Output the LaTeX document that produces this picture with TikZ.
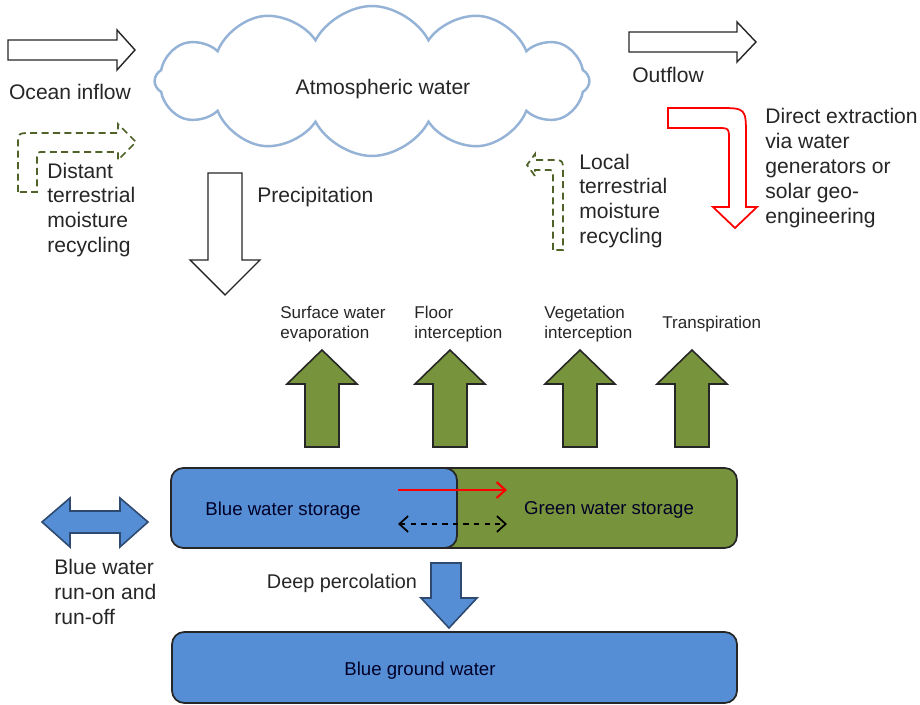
\documentclass[tikz,border=0pt]{standalone}
\usepackage{fontspec}
\setmainfont{Liberation Sans}
\usetikzlibrary{shapes.symbols,arrows.meta}
\definecolor{skyblue}{HTML}{95B3D7}
\definecolor{waterblue}{HTML}{558ED5}
\definecolor{blueline}{HTML}{2E4A70}
\definecolor{leafgreen}{HTML}{77933C}
\definecolor{darkolive}{HTML}{4F6228}
\tikzset{
  lbl/.style={font=\fontsize{12}{14.2}\selectfont, align=left, inner sep=0pt, text=black!85},
  slbl/.style={font=\fontsize{9.7}{11}\selectfont, align=left, inner sep=0pt, text=black!85},
  boxlbl/.style={font=\fontsize{10.6}{12}\selectfont, text=black!85!blue},
  outarrow/.style={draw=black!85, fill=white, line width=0.8pt, line join=miter},
  garrow/.style={draw=black!85, fill=leafgreen, line width=0.9pt},
  barrow/.style={draw=blueline, fill=waterblue, line width=0.9pt},
  recyc/.style={draw=darkolive, dashed, line width=1pt, dash pattern=on 4pt off 2.5pt},
  store/.style={draw=black!85, line width=1pt, rounded corners=7pt}
}
\begin{document}
\begin{tikzpicture}[x=0.02cm, y=-0.02cm]
  \useasboundingbox (0,0) rectangle (920,705);
  % atmosphere
  \node[cloud, draw=skyblue, fill=white, line width=1.4pt, cloud puffs=12, cloud puff arc=125,
    aspect=2.9, minimum width=8.7cm, minimum height=3cm, inner sep=0pt, shape border rotate=8] (atm) at (372,81) {};
  \node[lbl] (atmtxt) at (383,89) {Atmospheric water};
  \draw[outarrow](8,40)--(117,40)--(117,30)--(135,50)--(117,70)--(117,60)--(8,60)--cycle;
  \node[lbl] (ocean) at (70,92) {Ocean inflow};
  \draw[outarrow](629,32)--(737,32)--(737,22)--(756,42)--(737,62)--(737,52)--(629,52)--cycle;
  \node[lbl] (outflow) at (668,75) {Outflow};
  \draw[outarrow](208,173)--(242,173)--(242,260)--(260,260)--(225,295)--(190,260)--(208,260)--cycle;
  \node[lbl, anchor=west] (precip) at (257,197) {Precipitation};
  % recycling
  \draw[recyc](18,192)--(18,146) .. controls (18,133) .. (31,133)--(118,133)--(118,124)
  --(136,142)--(118,160)--(118,152)--(44,152) .. controls (37,152) .. (37,159)--(37,192)--cycle;
  \node[lbl, anchor=west] (distant) at (47,210) {Distant\\terrestrial\\moisture\\recycling};
  \draw[recyc](553,250)--(553,176) .. controls (553,170) .. (547,170)--(535,170)--(535,176)
  --(527,165)--(535,154)--(535,160)--(551,160) .. controls (563,160) .. (563,172)--(563,250)--cycle;
  \node[lbl, anchor=west] (local) at (579,201) {Local\\terrestrial\\moisture\\recycling};
  \draw[draw=red, fill=white, line width=1pt](668,108)--(718,108) .. controls (746,108) .. (746,136)
  --(746,207)--(757,207)--(735,228)--(713,207)--(729,207)--(729,140) .. controls (729,128) .. (717,128)
  --(668,128)--cycle;
  \node[lbl, anchor=west] (extract) at (765,168) {Direct extraction\\via water\\generators or\\solar geo-\\engineering};
  % vapour flows
  \foreach \x in {322,450,580,692}
    \draw[garrow](\x-17,447)--(\x-17,384)--(\x-35,384)--(\x,350)--(\x+35,384)--(\x+17,384)--(\x+17,447)--cycle;
  \node[slbl, anchor=west] (evap) at (280,324) {Surface water\\evaporation};
  \node[slbl, anchor=west] (floor) at (414,324) {Floor\\interception};
  \node[slbl, anchor=west] (veg) at (544,324) {Vegetation\\interception};
  \node[slbl, anchor=west] (transp) at (662,324) {Transpiration};
  % storages
  \draw[store, fill=leafgreen](360,468) rectangle (737,548);
  \draw[store, fill=waterblue](171,468) rectangle (457,548);
  \node[boxlbl] (bluest) at (283,511) {Blue water storage};
  \node[boxlbl] (greenst) at (609,510) {Green water storage};
  \coordinate (rs) at (398,490);
  \coordinate (re) at (507,490);
  \draw[red, line width=1.2pt, -{Straight Barb[length=5pt,width=9pt]}](rs)--(re);
  \coordinate (ds) at (398,524);
  \coordinate (de) at (507,524);
  \draw[black, line width=1pt, dashed, {Straight Barb[length=5pt,width=9pt]}-{Straight Barb[length=5pt,width=9pt]}](ds)--(de);
  \draw[barrow](42,522)--(70,498)--(70,511)--(120,511)--(120,498)--(148,522)--(120,547)--(120,533)
  --(70,533)--(70,547)--cycle;
  \node[lbl, anchor=west] (runoff) at (54,592) {Blue water\\run-on and\\run-off};
  \draw[barrow](431,563)--(461,563)--(461,598)--(477,598)--(449,628)--(421,598)--(431,598)--cycle;
  \node[lbl, font=\fontsize{11.3}{13}\selectfont] (deep) at (342,583) {Deep percolation};
  \draw[store, fill=waterblue](172,632) rectangle (737,703);
  \node[boxlbl] (ground) at (420,671) {Blue ground water};
\end{tikzpicture}
\end{document}
